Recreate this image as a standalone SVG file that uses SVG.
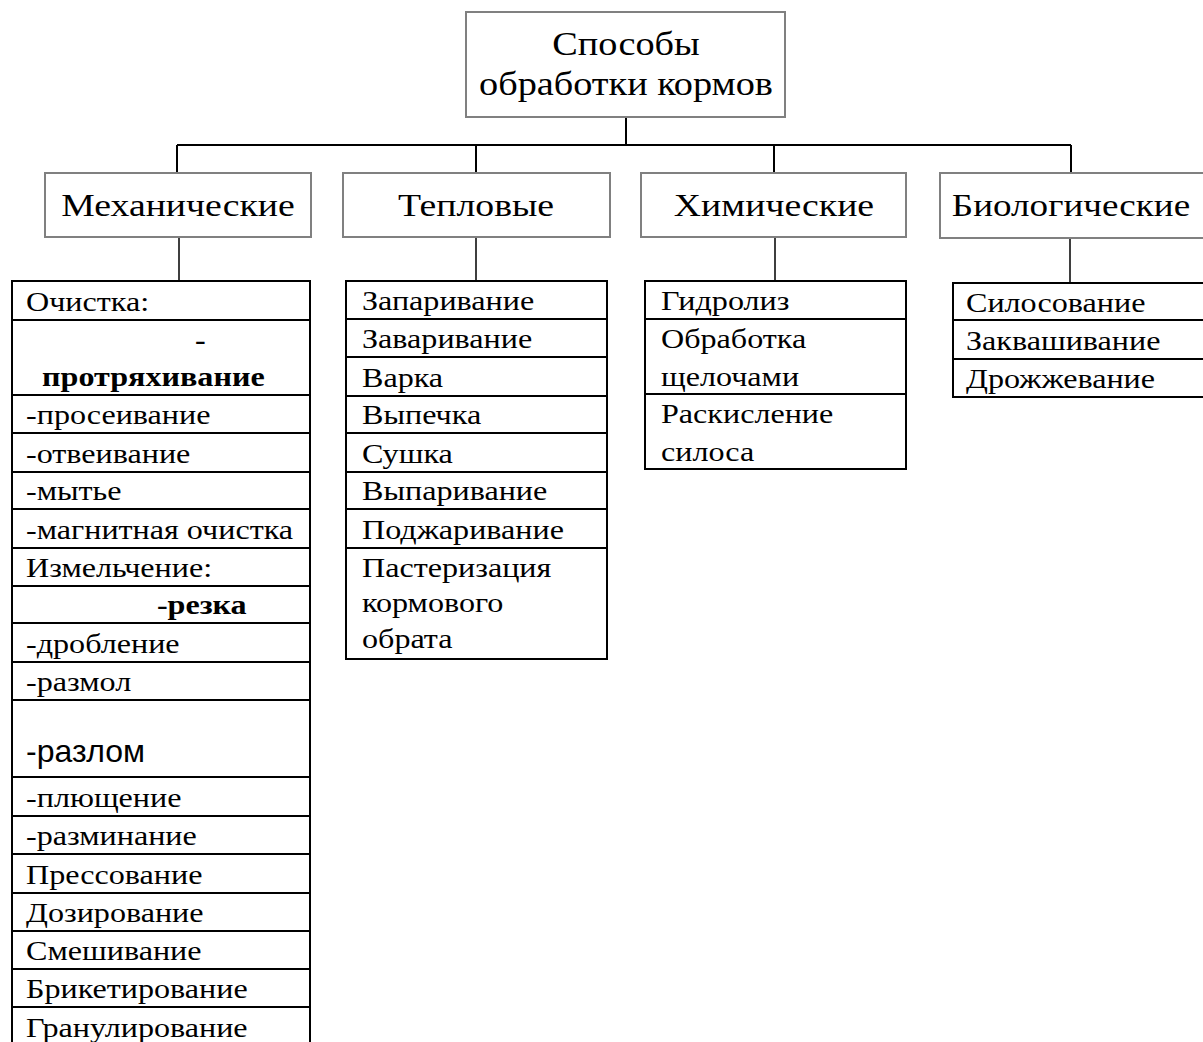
<svg xmlns="http://www.w3.org/2000/svg" width="1203" height="1042" viewBox="0 0 1203 1042">
<style>
.g{fill:#fff;stroke:#808080;stroke-width:2}
.b{fill:#fff;stroke:#000;stroke-width:2}
.sep{stroke:#000;stroke-width:2}
.c{fill:none;stroke:#000;stroke-width:2}
.c2{fill:none;stroke:#000;stroke-width:1.5}
text{font-family:"Liberation Serif","Times New Roman",serif;fill:#000}
.h{font-size:32px;text-anchor:middle}
.r{font-size:33px;text-anchor:middle}
.t{font-size:27px}
.bd{font-weight:bold}
.s{font-family:"Liberation Sans",Arial,sans-serif;font-size:32px}
</style>
<rect width="1203" height="1042" fill="#fff"/>
<g id="connectors">
<path class="c" d="M626 117V145M177 145H1071M177 145V173M476 145V173M774 145V173M1071 145V173"/>
<path class="c2" d="M179 237V281M476 237V281M775 237V281M1070 238V283"/>
</g>
<g id="root">
<rect class="g" x="466" y="12" width="319" height="105"/>
<text class="r" transform="translate(626 55) scale(1.16 1)">Способы</text>
<text class="r" transform="translate(626 95) scale(1.16 1)">обработки кормов</text>
</g>
<g id="mech">
<rect class="g" x="45" y="173" width="266" height="64"/>
<text class="h" transform="translate(178 216) scale(1.18 1)">Механические</text>
</g>
<g id="thermal">
<rect class="g" x="343" y="173" width="267" height="64"/>
<text class="h" transform="translate(476 216) scale(1.18 1)">Тепловые</text>
</g>
<g id="chem">
<rect class="g" x="641" y="173" width="265" height="64"/>
<text class="h" transform="translate(774 216) scale(1.18 1)">Химические</text>
</g>
<g id="bio">
<rect class="g" x="940" y="173" width="270" height="65"/>
<text class="h" transform="translate(1071 216) scale(1.16 1)">Биологические</text>
</g>
<g id="mech-list">
<rect class="b" x="12" y="281" width="298" height="780"/>
<path class="sep" d="M12 320H310M12 395H310M12 433H310M12 472H310M12 509H310M12 548H310M12 586H310M12 623H310M12 662H310M12 700H310M12 777H310M12 816H310M12 854H310M12 893H310M12 931H310M12 969H310M12 1007H310"/>
<g transform="translate(26 0) scale(1.19 1)">
<text class="t" x="0" y="311">Очистка:</text>
<text class="t bd" x="142" y="349">-</text>
<text class="t bd" x="13.5" y="386">протряхивание</text>
<text class="t" x="0" y="424">-просеивание</text>
<text class="t" x="0" y="463">-отвеивание</text>
<text class="t" x="0" y="500">-мытье</text>
<text class="t" x="0" y="539">-магнитная очистка</text>
<text class="t" x="0" y="577">Измельчение:</text>
<text class="t bd" x="110" y="614">-резка</text>
<text class="t" x="0" y="653">-дробление</text>
<text class="t" x="0" y="691">-размол</text>
<text class="t" x="0" y="807">-плющение</text>
<text class="t" x="0" y="845">-разминание</text>
<text class="t" x="0" y="884">Прессование</text>
<text class="t" x="0" y="922">Дозирование</text>
<text class="t" x="0" y="960">Смешивание</text>
<text class="t" x="0" y="998">Брикетирование</text>
<text class="t" x="0" y="1037">Гранулирование</text>
</g>
<text class="s" x="26" y="762">-разлом</text>
</g>
<g id="thermal-list">
<rect class="b" x="346" y="281" width="261" height="378"/>
<path class="sep" d="M346 319H607M346 357H607M346 396H607M346 433H607M346 472H607M346 509H607M346 548H607"/>
<g transform="translate(362 0) scale(1.19 1)">
<text class="t" x="0" y="310">Запаривание</text>
<text class="t" x="0" y="348">Заваривание</text>
<text class="t" x="0" y="387">Варка</text>
<text class="t" x="0" y="424">Выпечка</text>
<text class="t" x="0" y="463">Сушка</text>
<text class="t" x="0" y="500">Выпаривание</text>
<text class="t" x="0" y="539">Поджаривание</text>
<text class="t" x="0" y="577">Пастеризация</text>
<text class="t" x="0" y="612">кормового</text>
<text class="t" x="0" y="648">обрата</text>
</g>
</g>
<g id="chem-list">
<rect class="b" x="645" y="281" width="261" height="188"/>
<path class="sep" d="M645 319H906M645 394H906"/>
<g transform="translate(661 0) scale(1.19 1)">
<text class="t" x="0" y="310">Гидролиз</text>
<text class="t" x="0" y="348">Обработка</text>
<text class="t" x="0" y="386">щелочами</text>
<text class="t" x="0" y="423">Раскисление</text>
<text class="t" x="0" y="461">силоса</text>
</g>
</g>
<g id="bio-list">
<rect class="b" x="953" y="283" width="270" height="114"/>
<path class="sep" d="M953 320H1223M953 359H1223"/>
<g transform="translate(966 0) scale(1.19 1)">
<text class="t" x="0" y="312">Силосование</text>
<text class="t" x="0" y="350">Заквашивание</text>
<text class="t" x="0" y="388">Дрожжевание</text>
</g>
</g>
</svg>
